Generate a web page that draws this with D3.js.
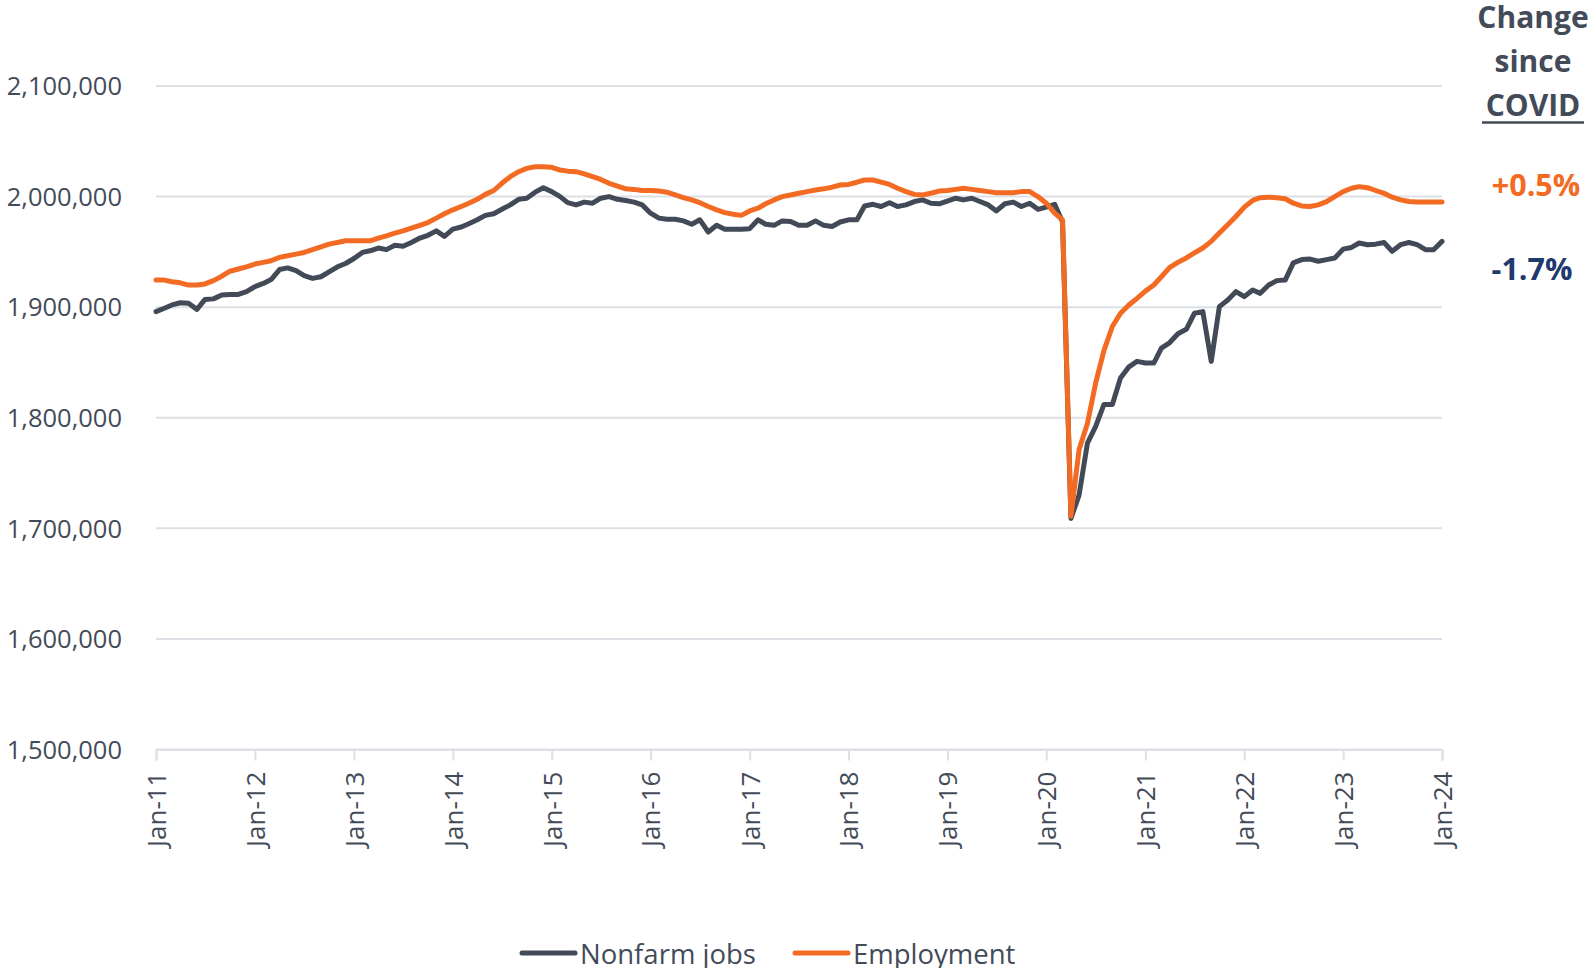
<!DOCTYPE html>
<html>
<head>
<meta charset="utf-8">
<script src="https://cdn.jsdelivr.net/npm/d3@7"></script>
<style>
  body { margin: 0; background: #fff; }
  svg { display: block; font-family: "Open Sans", sans-serif; }
</style>
</head>
<body>
<div id="chart"></div>
<script>
// monthly series, Jan-2011 .. Jan-2024, in thousands
var startMonth = new Date(Date.UTC(2011, 0, 1));

var nonfarm = [
  1896, 1899, 1902, 1904, 1903.5, 1898, 1907, 1907.5, 1911, 1911.5, 1911.5, 1914,
  1918.5, 1921.5, 1925, 1934, 1935.5, 1933, 1928.5, 1926, 1927.5, 1932, 1936.5, 1939.5,
  1944, 1949.5, 1951, 1953.5, 1952, 1956, 1955, 1958.5, 1962.5, 1965, 1969, 1964,
  1970.5, 1972.5, 1975.5, 1979, 1983, 1984.5, 1988.5, 1992.5, 1997.5, 1998.5, 2004, 2008,
  2004.5, 2000, 1994.5, 1992.5, 1995, 1994, 1998.5, 2000, 1997.5, 1996.5, 1995, 1992.5,
  1985, 1980.5, 1979.5, 1979.5, 1978, 1975, 1979, 1968, 1974, 1970.5, 1970.5, 1970.5,
  1971, 1979, 1975, 1974, 1978, 1977.5, 1974, 1974, 1978, 1974, 1973, 1977,
  1979, 1979, 1991.5, 1993, 1991, 1994.5, 1991, 1992.5, 1995.5, 1997, 1994, 1993.5,
  1996, 1998.5, 1997, 1998.5, 1995.5, 1992.5, 1987, 1993.5, 1995, 1991, 1994, 1988.5,
  1990.5, 1993, 1977, 1709, 1730, 1777, 1792, 1812, 1812, 1836, 1846, 1851,
  1849.5, 1849.5, 1863, 1868, 1876, 1880, 1894.5, 1896, 1851, 1900.5, 1906.5, 1914,
  1909.5, 1915.5, 1912.5, 1920, 1924, 1924.5, 1940, 1943, 1943.5, 1941.5, 1943, 1944.5,
  1952.5, 1954, 1958, 1956.5, 1957, 1958.5, 1950.5, 1956.5, 1958.5, 1956.5, 1952, 1952,
  1959.5
];

var employment = [
  1924.5, 1924.5, 1923, 1922, 1920, 1920, 1921, 1924, 1928, 1932.5, 1934.5, 1936.5,
  1939, 1940.5, 1942, 1945, 1946.5, 1948, 1949.5, 1952, 1954.5, 1957, 1958.5, 1960,
  1960, 1960, 1960, 1962.5, 1964.5, 1967, 1969, 1971.5, 1974, 1976.5, 1980.5, 1984.5,
  1988, 1991, 1994, 1997.5, 2002, 2005.5, 2012, 2018, 2022.5, 2025.5, 2027, 2027,
  2026.5, 2024, 2023, 2022.5, 2020.5, 2018, 2015.5, 2012, 2009.5, 2007, 2006.5, 2005.5,
  2005.5, 2005, 2004, 2001.5, 1999, 1997, 1994.5, 1991, 1988, 1985.5, 1984, 1983,
  1987, 1989.5, 1993.5, 1997, 2000, 2001.5, 2003, 2004.5, 2006, 2007, 2008.5, 2010.5,
  2011, 2013, 2015, 2015, 2013, 2011, 2007.5, 2004.5, 2002, 2001.5, 2003, 2005,
  2005.5, 2006.5, 2007.5, 2006.5, 2005.5, 2004.5, 2003.5, 2003.5, 2003.5, 2004.5, 2004.5, 2000,
  1994, 1985, 1979, 1711, 1771, 1795, 1831, 1861, 1882.5, 1894.5, 1902, 1908,
  1914.5, 1920, 1927.5, 1936, 1940.5, 1944.5, 1949, 1953.5, 1959.5, 1967, 1974.5, 1982,
  1990.5, 1996.5, 1999, 1999.5, 1999, 1998, 1994, 1991.5, 1991, 1992.5, 1995.5, 2000,
  2004.5, 2007.5, 2009, 2008, 2005.5, 2003, 1999.5, 1997, 1995.5, 1995, 1995, 1995,
  1995
];

var seriesNames = ["Nonfarm jobs", "Employment"];
var seriesColors = ["#434a57", "#f36a22"];
var yTicks = [1500000, 1600000, 1700000, 1800000, 1900000, 2000000, 2100000];
var changeLabels = ["+0.5%", "-1.7%"];
var headerLines = ["Change", "since", "COVID"];

var width = 1594, height = 968;
var margin = {top: 86, right: 152, bottom: 218, left: 156};
var textColor = "#434b59";

var svg = d3.select("#chart").append("svg")
    .attr("width", width)
    .attr("height", height);

var x = d3.scaleUtc()
    .domain([startMonth, d3.utcMonth.offset(startMonth, nonfarm.length - 1)])
    .range([margin.left, width - margin.right]);

var y = d3.scaleLinear()
    .domain([1500000, 2100000])
    .range([height - margin.bottom - 0.5, margin.top]);

var rows = nonfarm.map(function(v, i) {
  return {date: d3.utcMonth.offset(startMonth, i), nonfarm: v * 1000, employment: employment[i] * 1000};
});

// gridlines
svg.append("g")
  .selectAll("line")
  .data(yTicks)
  .enter().append("line")
    .attr("x1", x.range()[0])
    .attr("x2", x.range()[1])
    .attr("y1", function(d) { return y(d); })
    .attr("y2", function(d) { return y(d); })
    .style("stroke", "#dde0e5")
    .style("stroke-width", 2);

// y labels
svg.append("g")
  .selectAll("text")
  .data(yTicks)
  .enter().append("text")
    .attr("x", 122)
    .attr("y", function(d) { return y(d); })
    .attr("dy", "0.36em")
    .attr("text-anchor", "end")
    .style("font-size", "25.5px")
    .style("fill", textColor)
    .text(d3.format(","));

// x axis
var xAxis = svg.append("g")
    .attr("transform", "translate(0," + y(1500000) + ")")
    .call(d3.axisBottom(x)
      .ticks(d3.utcYear.every(1))
      .tickSize(11)
      .tickFormat(d3.utcFormat("%b-%y")));

xAxis.select(".domain").style("stroke", "#dde0e5").style("stroke-width", 2);
xAxis.selectAll(".tick line").style("stroke", "#dde0e5").style("stroke-width", 2);
xAxis.selectAll(".tick text")
    .attr("transform", "rotate(-90)")
    .attr("x", -22)
    .attr("y", 0)
    .attr("dy", "0.36em")
    .attr("text-anchor", "end")
    .style("font-family", "'Open Sans', sans-serif")
    .style("font-size", "26px")
    .style("fill", textColor);

// lines
var keys = ["nonfarm", "employment"];
keys.forEach(function(k, i) {
  svg.append("path")
    .datum(rows)
    .attr("d", d3.line()
      .x(function(d) { return x(d.date); })
      .y(function(d) { return y(d[k]); }))
    .style("fill", "none")
    .style("stroke", seriesColors[i])
    .style("stroke-width", 5)
    .style("stroke-linejoin", "round")
    .style("stroke-linecap", "round");
});

// right side header
var header = svg.append("g").attr("text-anchor", "middle");
header.selectAll("text")
  .data(headerLines)
  .enter().append("text")
    .attr("x", 1533)
    .attr("y", function(d, i) { return 28 + i * 44; })
    .style("font-size", "30px")
    .style("font-weight", "bold")
    .style("fill", textColor)
    .text(function(d) { return d; });
header.append("line")
    .attr("x1", 1482).attr("x2", 1584)
    .attr("y1", 122.5).attr("y2", 122.5)
    .style("stroke", textColor)
    .style("stroke-width", 2.5);

var changeColors = [seriesColors[1], "#1f3a6e"];
svg.append("g")
  .selectAll("text")
  .data(changeLabels)
  .enter().append("text")
    .attr("x", function(d, i) { return i === 0 ? 1536 : 1532; })
    .attr("y", function(d, i) { return i === 0 ? 196 : 280; })
    .attr("text-anchor", "middle")
    .style("font-size", "30.5px")
    .style("font-weight", "bold")
    .style("fill", function(d, i) { return changeColors[i]; })
    .text(function(d) { return d; });

// legend
var legendX = [522, 795];
var legend = svg.append("g");
seriesNames.forEach(function(name, i) {
  legend.append("line")
    .attr("x1", legendX[i]).attr("x2", legendX[i] + 53)
    .attr("y1", 953).attr("y2", 953)
    .style("stroke", seriesColors[i])
    .style("stroke-width", 5)
    .style("stroke-linecap", "round");
  legend.append("text")
    .attr("x", legendX[i] + 58)
    .attr("y", 964)
    .style("font-size", "27.5px")
    .style("fill", textColor)
    .text(name);
});
</script>
</body>
</html>
